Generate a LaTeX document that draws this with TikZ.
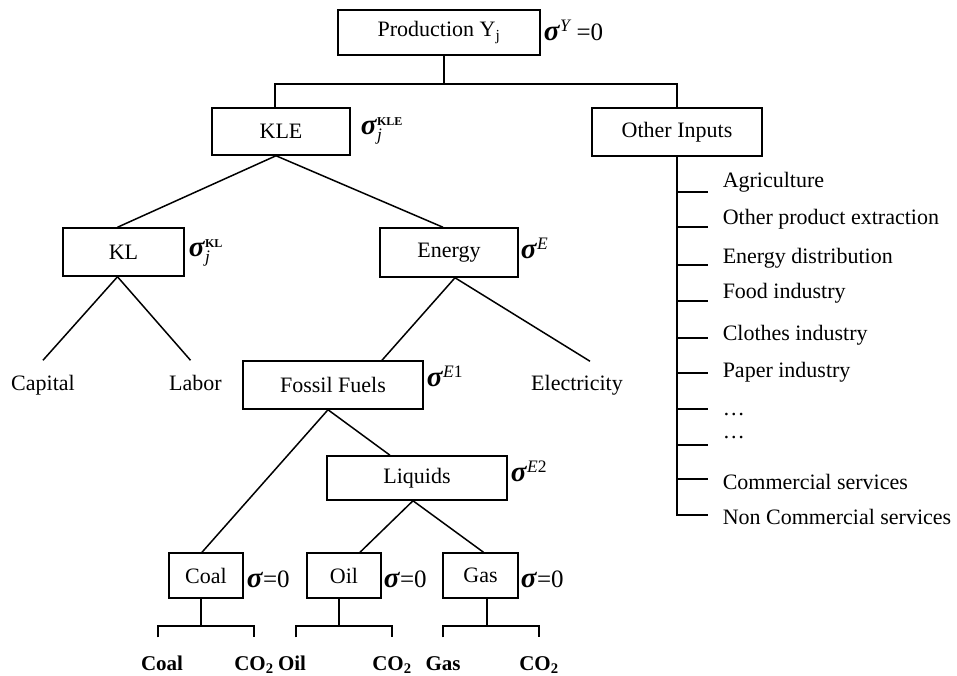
\documentclass[tikz,border=0pt]{standalone}
\usepackage{amsmath}
\usepackage{fontspec}
\setmainfont{Liberation Serif}
\usetikzlibrary{positioning}

\newcommand{\sg}{\text{\fontsize{29}{30}\selectfont\bfseries\itshape σ\/}}
\newcommand{\supbf}[1]{\text{\fontsize{12}{13}\selectfont\bfseries #1}}

\tikzset{
  box/.style={draw, line width=1.5pt, minimum height=46pt, inner sep=0pt},
  leaf/.style={inner sep=0pt, text height=15pt, text depth=5pt},
  sig/.style={anchor=west, inner sep=0pt, font=\fontsize{25}{30}\selectfont},
  item/.style={anchor=west, inner sep=0pt, text height=15pt, text depth=5pt},
  fuel/.style={inner sep=0pt, text height=15pt, text depth=5pt, font=\fontsize{21}{25}\selectfont\bfseries}
}

\begin{document}
\begin{tikzpicture}[x=1pt, y=-1pt, line width=1.5pt, font=\fontsize{22}{26}\selectfont]
    \useasboundingbox (0,0) rectangle (957,675);

    % Top level
    \node[box, minimum width=202pt, minimum height=45pt] (prod) at (439,32.5) {Production Y\textsubscript{j}};
    \node[sig] (sigy) at (543,30) {$\sg^{\text{\itshape Y}}$ =0};

    \node[box, minimum width=138pt, minimum height=47pt] (kle) at (281,131.5) {KLE};
    \node[sig] (sigkle) at (360,131) {$\sg_{\text{\itshape j}}^{\supbf{KLE}}$};
    \node[box, minimum width=170pt, minimum height=48pt] (other) at (677,132) {Other Inputs};

    % KLE nest
    \node[box, minimum width=121pt, minimum height=48pt] (kl) at (123.5,252) {KL};
    \node[sig] (sigkl) at (188,253) {$\sg_{\text{\itshape j}}^{\supbf{KL}}$};
    \node[box, minimum width=138pt, minimum height=49pt] (energy) at (449,252.5) {Energy};
    \node[sig] (sige) at (520,248) {$\sg^{\text{\itshape E}}$};

    \node[leaf] (cap) at (43,385) {Capital};
    \node[leaf] (lab) at (195.5,385) {Labor};
    \node[box, minimum width=180pt, minimum height=48pt] (fossil) at (333,385) {Fossil Fuels};
    \node[sig] (sige1) at (426,376) {$\sg^{\text{\itshape E}\text{1}}$};
    \node[leaf] (elec) at (577,385) {Electricity};

    \node[box, minimum width=180pt, minimum height=44pt] (liq) at (417,478) {Liquids};
    \node[sig] (sige2) at (510,471) {$\sg^{\text{\itshape E}\text{2}}$};

    % Fuels
    \node[box, minimum width=74pt, minimum height=45pt] (coal) at (206,575.5) {Coal};
    \node[sig] (sigc) at (246,579) {$\sg$=0};
    \node[box, minimum width=74pt, minimum height=45pt] (oil) at (344,575.5) {Oil};
    \node[sig] (sigo) at (383,579) {$\sg$=0};
    \node[box, minimum width=75pt, minimum height=45pt] (gas) at (480.5,575.5) {Gas};
    \node[sig] (sigg) at (520,579) {$\sg$=0};

    \node[fuel] (lcoal) at (162,665) {Coal};
    \node[fuel] (lco1) at (254,665) {CO\textsubscript{2}};
    \node[fuel] (loil) at (292,665) {Oil};
    \node[fuel] (lco2) at (392,665) {CO\textsubscript{2}};
    \node[fuel] (lgas) at (443,665) {Gas};
    \node[fuel] (lco3) at (539,665) {CO\textsubscript{2}};

    % Other inputs list
    \node[item] (i1) at (722,182) {Agriculture};
    \node[item] (i2) at (722,219) {Other product extraction};
    \node[item] (i3) at (722,258) {Energy distribution};
    \node[item] (i4) at (722,293) {Food industry};
    \node[item] (i5) at (722,335) {Clothes industry};
    \node[item] (i6) at (722,372) {Paper industry};
    \node[item] (i7) at (722,410) {\ldots};
    \node[item] (i8) at (722,433) {\ldots};
    \node[item] (i9) at (722,484) {Commercial services};
    \node[item] (i10) at (722,519) {Non Commercial services};

    % Connectors
    \draw ([xshift=5pt]prod.south) -- ++(0,28) coordinate (bus);
    \draw ([xshift=-6pt]kle.north) |- (bus) -| (other.north);

    \draw ([xshift=-6pt]kl.north) -- ([xshift=-5pt]kle.south) -- ([xshift=-6pt]energy.north);
    \draw ([yshift=14pt]cap.north) -- ([xshift=-6pt]kl.south) -- ([xshift=-5pt, yshift=14pt]lab.north);
    \draw ([xshift=49pt]fossil.north) -- ([xshift=6pt]energy.south) -- ([xshift=13pt, yshift=13pt]elec.north);
    \draw ([xshift=-4pt]coal.north) -- ([xshift=-5pt]fossil.south) -- ([xshift=-27pt]liq.north);
    \draw ([xshift=16pt]oil.north) -- ([xshift=-4pt]liq.south) -- ([xshift=3pt]gas.north);

    % Output brackets
    \draw ([xshift=-5pt]coal.south) -- ++(0,27) coordinate (jc);
    \draw ([xshift=-4pt, yshift=17pt]lcoal.north) |- (jc) -| ([yshift=17pt]lco1.north);
    \draw ([xshift=-5pt]oil.south) -- ++(0,27) coordinate (jo);
    \draw ([xshift=4pt, yshift=17pt]loil.north) |- (jo) -| ([yshift=17pt]lco2.north);
    \draw ([xshift=6.5pt]gas.south) -- ++(0,27) coordinate (jg);
    \draw ([yshift=17pt]lgas.north) |- (jg) -| ([yshift=17pt]lco3.north);

    % Spine of the list
    \draw (other.south) |- (708,515);
    \foreach \y in {192,227,265,301,338,373,409,445,479}
        \draw (other.south |- 0,\y) -- ++(31,0);
\end{tikzpicture}
\end{document}
